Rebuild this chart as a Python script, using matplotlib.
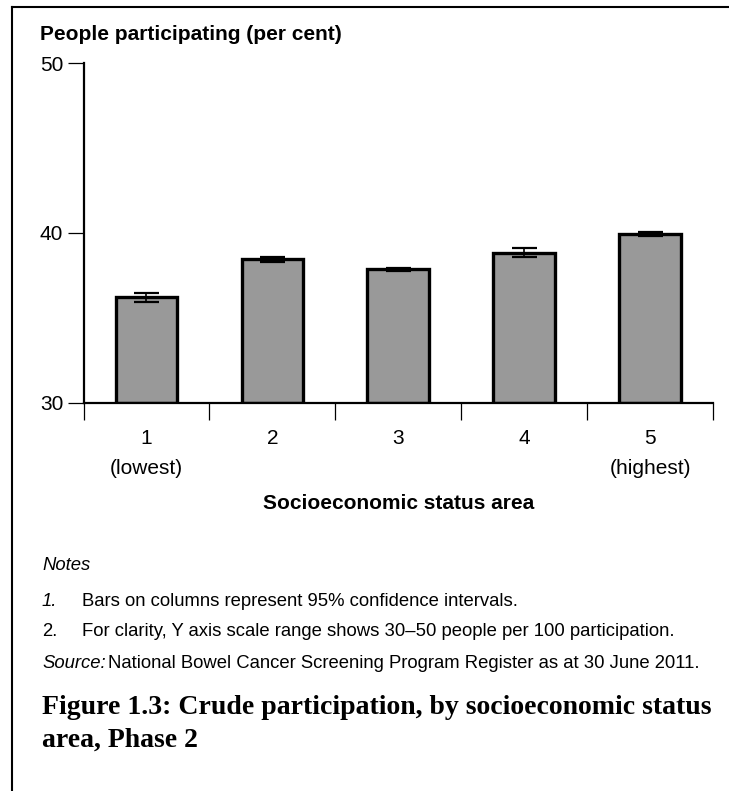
import matplotlib
matplotlib.use("Agg")
import matplotlib.pyplot as plt
from matplotlib.lines import Line2D

# ---- data ----
categories = ["1", "2", "3", "4", "5"]
category_labels = ["1\n(lowest)", "2\n", "3\n", "4\n", "5\n(highest)"]
participation = [36.2, 38.45, 37.85, 38.85, 39.95]
ci_half = [0.25, 0.15, 0.1, 0.25, 0.12]
y_ticks = [30, 40, 50]

W, H = 729, 791
DPI = 100
fig = plt.figure(figsize=(W / DPI, H / DPI), dpi=DPI)
plt.rcParams['font.family'] = ['Liberation Sans', 'DejaVu Sans']

def fx(px):
    return px / W

def fy(py):
    return 1 - py / H

ax_left, ax_right, ax_top, ax_bottom = 83.5, 713, 63.3, 402.7
ax = fig.add_axes([fx(ax_left), fy(ax_bottom), fx(ax_right - ax_left), (ax_bottom - ax_top) / H])

x = list(range(1, len(categories) + 1))
ax.bar(x, [v - 30 for v in participation], bottom=30, width=0.49,
       color="#999999", edgecolor="black", linewidth=2.4, zorder=2)
ax.errorbar(x, participation, yerr=ci_half, fmt="none", ecolor="black",
            elinewidth=1.2, capsize=9, capthick=1.6, zorder=3)

ax.set_xlim(0.5, 5.5)
ax.set_ylim(30, 50)
for s in ["top", "right"]:
    ax.spines[s].set_visible(False)
ax.spines["left"].set_linewidth(1.6)
ax.spines["bottom"].set_linewidth(1.6)

ax.set_yticks(y_ticks)
ax.set_yticklabels([str(t) for t in y_ticks], fontsize=15)
ax.tick_params(axis="y", direction="out", length=11.5, width=0.9, pad=3)

ax.set_xticks([0.5 + i for i in range(len(categories) + 1)])
ax.set_xticklabels([])
ax.tick_params(axis="x", which="major", direction="out", length=12.5, width=0.9)
ax.set_xticks(x, minor=True)
ax.set_xticklabels(category_labels, minor=True, fontsize=15, linespacing=1.7)
ax.tick_params(axis="x", which="minor", length=0, pad=19)

ax.set_xlabel("Socioeconomic status area", fontsize=15, fontweight="bold", labelpad=12)

# y-axis title
fig.text(fx(40), fy(35), "People participating (per cent)", fontsize=15,
         fontweight="bold", ha="left", va="center")

# notes
NS = 13.3
fig.text(fx(42), fy(566), "Notes", fontsize=NS, style="italic", ha="left", va="center")
fig.text(fx(42), fy(601), "1.", fontsize=NS, style="italic", ha="left", va="center")
fig.text(fx(82), fy(601), "Bars on columns represent 95% confidence intervals.",
         fontsize=NS, ha="left", va="center")
fig.text(fx(42), fy(632), "2.", fontsize=NS, ha="left", va="center")
fig.text(fx(82), fy(632), "For clarity, Y axis scale range shows 30\u201350 people per 100 participation.",
         fontsize=NS, ha="left", va="center")
fig.text(fx(42), fy(664), "Source:", fontsize=NS, style="italic", ha="left", va="center")
fig.text(fx(108), fy(664), "National Bowel Cancer Screening Program Register as at 30 June 2011.",
         fontsize=NS, ha="left", va="center")

# figure title
TS = 20
fig.text(fx(42), fy(708), "Figure 1.3: Crude participation, by socioeconomic status",
         fontsize=TS, fontweight="bold", family=["Liberation Serif"], ha="left", va="center")
fig.text(fx(42), fy(740), "area, Phase 2",
         fontsize=TS, fontweight="bold", family=["Liberation Serif"], ha="left", va="center")

# frame lines (left and top)
fig.add_artist(Line2D([fx(12), fx(12)], [fy(7), 0], color="black", linewidth=1.5))
fig.add_artist(Line2D([fx(12), 1], [fy(7), fy(7)], color="black", linewidth=1.5))

fig.savefig("out.png", dpi=DPI)
